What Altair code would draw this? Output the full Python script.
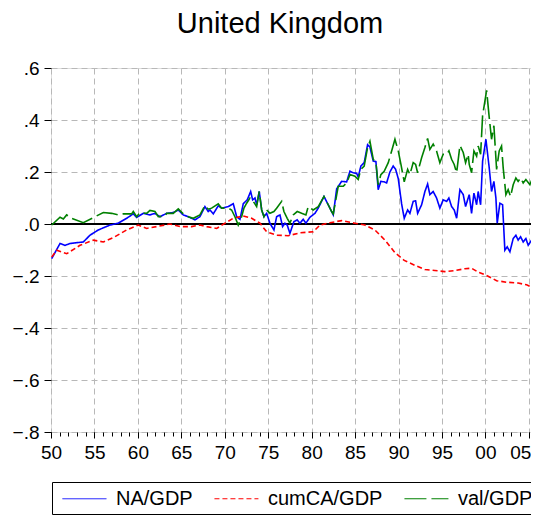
import altair as alt
import pandas as pd

# ---- data ----
na_years = [1950.08, 1951.04, 1951.61, 1952.19, 1953.72, 1954.49, 1955.44, 1956.79, 1957.74, 1958.71,
            1959.47, 1959.86, 1960.62, 1961.39, 1961.97, 1962.54, 1963.31, 1964.07, 1964.65, 1965.22,
            1965.80, 1966.57, 1967.14, 1967.72, 1968.10, 1968.30, 1968.68, 1969.25, 1969.64, 1970.40,
            1970.98, 1971.37, 1971.75, 1972.13, 1972.59, 1972.98, 1973.21, 1973.48, 1973.67, 1973.97,
            1974.25, 1974.51, 1974.82, 1975.20, 1975.66, 1975.97, 1976.35, 1976.66, 1976.93, 1977.19,
            1977.50, 1977.96, 1978.34, 1978.65, 1979.03, 1979.34, 1979.80, 1980.38, 1980.76, 1981.42,
            1981.91, 1982.49, 1982.88, 1983.45, 1984.03, 1984.41, 1984.79, 1985.18, 1985.36, 1985.67,
            1986.05, 1986.44, 1986.71, 1987.09, 1987.40, 1987.66, 1987.97, 1988.35, 1988.63, 1989.01,
            1989.39, 1989.67, 1989.97, 1990.36, 1990.66, 1991.05, 1991.31, 1991.69, 1991.97, 1992.20,
            1992.66, 1993.04, 1993.35, 1993.61, 1993.99, 1994.38, 1994.76, 1995.14, 1995.54, 1995.80,
            1996.11, 1996.41, 1996.69, 1997.07, 1997.45, 1997.72, 1998.02, 1998.14, 1998.41, 1998.68,
            1998.99, 1999.17, 1999.45, 1999.68, 2000.06, 2000.44, 2000.71, 2000.98, 2001.21, 2001.36,
            2001.67, 2001.98, 2002.24, 2002.51, 2002.82, 2003.20, 2003.51, 2003.77, 2004.05, 2004.35,
            2004.66, 2004.93, 2005.32, 2005.70]
na_vals = [-0.133, -0.075, -0.082, -0.075, -0.069, -0.043, -0.023, -0.004, 0.003, 0.022,
           0.039, 0.025, 0.041, 0.035, 0.041, 0.028, 0.041, 0.044, 0.054, 0.035,
           0.028, 0.016, 0.028, 0.067, 0.048, 0.054, 0.039, 0.070, 0.061, 0.067,
           0.078, 0.028, 0.018, 0.078, 0.093, 0.125, 0.093, 0.100, 0.074, 0.125,
           0.054, 0.028, 0.041, 0.003, -0.023, 0.028, 0.035, -0.010, 0.003, -0.004,
           -0.036, 0.009, 0.016, 0.003, 0.018, 0.003, 0.026, 0.041, 0.061, 0.106,
           0.074, 0.035, 0.135, 0.164, 0.162, 0.203, 0.197, 0.195, 0.181, 0.223,
           0.236, 0.305, 0.296, 0.242, 0.240, 0.132, 0.164, 0.162, 0.158, 0.200,
           0.223, 0.210, 0.175, 0.077, 0.022, 0.054, 0.041, 0.087, 0.089, 0.041,
           0.074, 0.125, 0.154, 0.113, 0.125, 0.100, 0.061, 0.093, 0.087, 0.100,
           0.067, 0.054, 0.022, 0.132, 0.113, 0.067, 0.100, 0.113, 0.041, 0.119,
           0.074, 0.125, 0.074, 0.242, 0.326, 0.216, 0.125, 0.164, 0.100, 0.003,
           0.080, 0.074, -0.101, -0.088, -0.107, -0.056, -0.043, -0.062, -0.049, -0.069,
           -0.056, -0.082, -0.062, -0.049]

ca_years = [1950.08, 1950.66, 1951.81, 1953.34, 1954.87, 1956.02, 1957.36, 1958.71, 1960.05, 1961.01,
            1962.16, 1963.69, 1964.84, 1966.19, 1967.15, 1967.92, 1969.07, 1970.02, 1970.98, 1972.13,
            1973.10, 1974.05, 1974.82, 1975.97, 1977.31, 1978.65, 1980.18, 1980.96, 1982.11, 1983.45,
            1984.98, 1986.13, 1987.28, 1988.44, 1989.59, 1990.66, 1991.89, 1993.04, 1994.19, 1995.34,
            1996.49, 1997.64, 1998.41, 1999.17, 2000.14, 2001.29, 2002.44, 2003.77, 2004.74, 2005.32,
            2005.70]
ca_vals = [-0.127, -0.101, -0.114, -0.082, -0.062, -0.069, -0.049, -0.023, -0.004, -0.017,
           -0.010, 0.000, -0.010, -0.010, -0.004, -0.010, -0.017, 0.003, 0.022, 0.031,
           0.022, 0.003, -0.030, -0.043, -0.045, -0.034, -0.030, -0.004, 0.005, 0.013,
           0.003, -0.004, -0.023, -0.062, -0.110, -0.140, -0.159, -0.175, -0.179, -0.183,
           -0.179, -0.172, -0.170, -0.185, -0.198, -0.218, -0.224, -0.227, -0.234, -0.243,
           -0.252]

val_years = [1950.08, 1951.04, 1951.42, 1951.80, 1952.38, 1953.72, 1955.07, 1956.02, 1956.98, 1957.74,
             1958.32, 1959.28, 1959.47, 1959.86, 1960.24, 1961.01, 1961.39, 1961.97, 1962.35, 1963.12,
             1963.31, 1964.07, 1964.65, 1965.22, 1965.80, 1966.38, 1967.14, 1967.72, 1968.10, 1968.49,
             1969.25, 1969.64, 1970.40, 1970.79, 1971.17, 1971.55, 1971.94, 1972.21, 1972.52, 1972.90,
             1973.28, 1973.67, 1973.97, 1974.25, 1974.51, 1974.82, 1975.20, 1975.66, 1975.97, 1976.55,
             1976.81, 1977.19, 1977.50, 1977.88, 1978.34, 1978.85, 1979.34, 1979.61, 1980.18, 1980.76,
             1981.42, 1981.91, 1982.30, 1982.49, 1983.06, 1983.64, 1984.03, 1984.41, 1984.98, 1985.36,
             1985.67, 1986.05, 1986.44, 1986.71, 1987.09, 1987.40, 1987.66, 1987.97, 1988.35, 1988.82,
             1989.21, 1989.59, 1989.97, 1990.28, 1990.66, 1991.05, 1991.31, 1991.69, 1991.97, 1992.20,
             1992.66, 1993.04, 1993.35, 1993.61, 1993.99, 1994.38, 1994.76, 1995.14, 1995.54, 1995.80,
             1996.11, 1996.41, 1996.69, 1997.07, 1997.45, 1997.72, 1998.02, 1998.14, 1998.41, 1998.68,
             1998.99, 1999.17, 1999.45, 1999.68, 2000.14, 2000.44, 2000.71, 2000.98, 2001.29, 2001.59,
             2001.86, 2002.05, 2002.36, 2002.62, 2002.90, 2003.20, 2003.51, 2003.77, 2004.05, 2004.35,
             2004.66, 2005.12, 2005.43, 2005.70]
val_vals = [-0.004, 0.026, 0.019, 0.035, 0.022, 0.005, 0.028, 0.044, 0.041, 0.035,
            0.039, 0.039, 0.048, 0.028, 0.044, 0.041, 0.052, 0.048, 0.028, 0.031,
            0.041, 0.041, 0.058, 0.039, 0.028, 0.022, 0.035, 0.071, 0.057, 0.061,
            0.078, 0.061, 0.061, 0.054, 0.028, -0.004, 0.028, 0.061, 0.080, 0.100,
            0.087, 0.067, 0.125, 0.054, 0.028, 0.054, 0.041, 0.048, 0.061, 0.087,
            0.048, 0.022, 0.003, 0.035, 0.048, 0.041, 0.035, 0.067, 0.054, 0.067,
            0.106, 0.074, 0.048, 0.039, 0.145, 0.145, 0.158, 0.190, 0.184, 0.171,
            0.210, 0.223, 0.294, 0.318, 0.249, 0.236, 0.151, 0.190, 0.203, 0.236,
            0.281, 0.326, 0.281, 0.229, 0.162, 0.210, 0.190, 0.236, 0.229, 0.197,
            0.255, 0.294, 0.329, 0.287, 0.307, 0.281, 0.236, 0.268, 0.268, 0.281,
            0.249, 0.229, 0.197, 0.302, 0.275, 0.236, 0.268, 0.229, 0.197, 0.281,
            0.261, 0.300, 0.268, 0.417, 0.514, 0.410, 0.326, 0.378, 0.210, 0.281,
            0.300, 0.216, 0.113, 0.132, 0.106, 0.151, 0.177, 0.164, 0.177, 0.158,
            0.171, 0.151, 0.177, 0.190]

chart_title = ["United Kingdom"]
series_names = ["NA/GDP", "cumCA/GDP", "val/GDP"]
series_colors = ["#0000ff", "#ff0000", "#008000"]
series_dashes = [[1, 0], [5, 3], [22, 5]]
x_major = [1950, 1955, 1960, 1965, 1970, 1975, 1980, 1985, 1990, 1995, 2000, 2005]
x_minor = list(range(1950, 2006))
y_ticks = [-0.8, -0.6, -0.4, -0.2, 0.0, 0.2, 0.4, 0.6]

rows = []
for name, yrs, vals in zip(series_names, [na_years, ca_years, val_years], [na_vals, ca_vals, val_vals]):
    for yr, v in zip(yrs, vals):
        rows.append({"year": yr, "value": v, "series": name})
df = pd.DataFrame(rows)
title_df = pd.DataFrame({"t": chart_title})

FONT = "Liberation Sans"
xscale = alt.Scale(domain=[1950, 2005.25], nice=False, zero=False)
yscale = alt.Scale(domain=[-0.8, 0.6], nice=False, zero=False)

legend = alt.Legend(
    title=None, orient="none", legendX=1, legendY=414, direction="horizontal",
    symbolType="M-0.55,0H3.45", symbolSize=484, symbolStrokeWidth=1,
    labelFont=FONT, labelFontSize=20, labelColor="black", labelOffset=36,
    columnPadding=16, padding=5, strokeColor="black", fillColor="white",
)

title_mark = alt.Chart(title_df).mark_text(
    font=FONT, fontSize=29, color="black", align="center", baseline="alphabetic"
).encode(x=alt.value(229), y=alt.value(-35), text="t:N")

zero_rule = alt.Chart(df).mark_rule(color="black", strokeWidth=1).encode(
    y=alt.YDatum(0, axis=None, scale=yscale)
)

last_label = "datum.value >= 2005"
lines = alt.Chart(df).mark_line(strokeWidth=1.6, clip=True).encode(
    x=alt.X("year:Q", scale=xscale, axis=alt.Axis(
        values=x_major, format="d", labelExpr="substring(datum.label, 2)", title=None,
        grid=True, gridColor="#b8b8b8", gridDash=[6, 4], gridWidth=1, labelFlush=False,
        labelAlign={"condition": {"test": last_label, "value": "right"}, "value": "center"},
        labelOffset={"condition": {"test": last_label, "value": 2}, "value": 0},
        domain=False, tickSize=6, tickColor="black", labelPadding=5,
        labelFont=FONT, labelFontSize=19, labelColor="black", orient="bottom")),
    y=alt.Y("value:Q", scale=yscale, axis=alt.Axis(
        values=y_ticks, labelExpr="replace(format(datum.value, '.1f'), '0.', '.')", title=None,
        grid=True, gridColor="#b8b8b8", gridDash=[6, 4], gridWidth=1,
        domain=False, tickSize=7, tickColor="black", labelPadding=5,
        labelFont=FONT, labelFontSize=19, labelColor="black")),
    color=alt.Color("series:N", scale=alt.Scale(domain=series_names, range=series_colors), legend=legend),
    strokeDash=alt.StrokeDash("series:N", scale=alt.Scale(domain=series_names, range=series_dashes), legend=legend),
)

minor = alt.Chart(df).mark_line(opacity=0).encode(
    x=alt.X("year:Q", scale=xscale, axis=alt.Axis(
        values=x_minor, labels=False, grid=False, domain=False, tickSize=4,
        tickColor="black", title=None, orient="bottom")),
    y=alt.Y("value:Q", scale=yscale, axis=None),
)

chart = alt.layer(zero_rule, lines, minor, title_mark).resolve_axis(
    x="independent", y="independent"
).properties(
    width=480, height=364,
    autosize=alt.AutoSizeParams(type="none"),
    padding={"left": 43, "top": 60, "right": 0, "bottom": 84},
).configure_view(stroke="black", strokeWidth=1).configure(background="white")

chart.save("out.html", embed_options={"renderer": "svg", "actions": False})
